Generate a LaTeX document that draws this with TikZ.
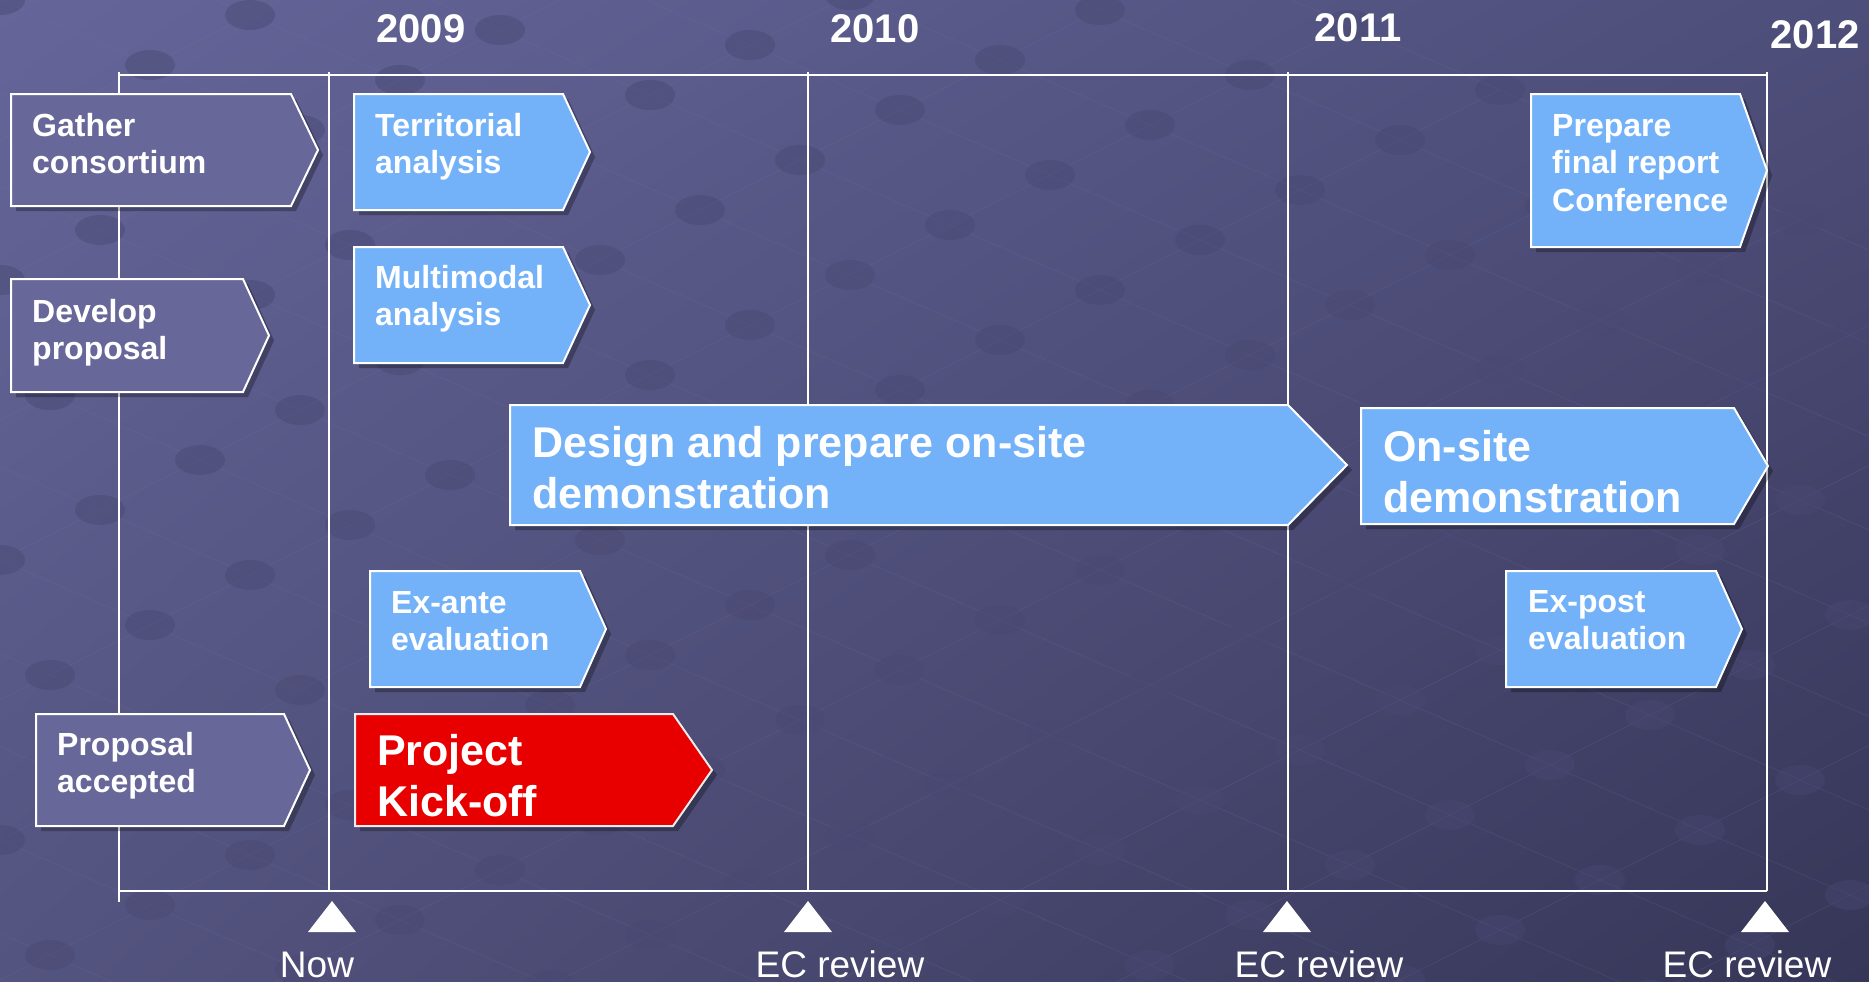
\documentclass[tikz,border=0pt]{standalone}
\usepackage{fontspec}
\setmainfont{Liberation Sans}
\usetikzlibrary{calc,shadings}
\definecolor{bgA}{RGB}{101,101,154}
\definecolor{bgB}{RGB}{78,78,122}
\definecolor{bgD}{RGB}{84,84,128}
\definecolor{bgC}{RGB}{54,54,88}
\definecolor{darkbox}{RGB}{103,103,154}
\definecolor{lightblue}{RGB}{115,178,248}
\definecolor{kickred}{RGB}{232,0,0}
\definecolor{dotc}{RGB}{72,72,114}
\definecolor{gridc}{RGB}{120,120,170}
\tikzset{
  frameline/.style={draw=white, line width=2pt},
  innerline/.style={draw=white, line width=1.5pt},
  boxshadow/.style={fill=black, fill opacity=0.28},
  darkchev/.style={fill=darkbox, draw=white, line width=2pt},
  bluechev/.style={fill=lightblue, draw=white, line width=2pt},
  redchev/.style={fill=kickred, draw=white!85!gray, line width=2pt},
  smalltxt/.style={font=\fontsize{32}{37.5}\selectfont\bfseries, text=white, align=left, inner sep=0pt, anchor=north west},
  bigtxt/.style={font=\fontsize{43}{51}\selectfont\bfseries, text=white, align=left, inner sep=0pt, anchor=north west},
  yeartxt/.style={font=\fontsize{40}{48}\selectfont\bfseries, text=white, inner sep=0pt, anchor=base},
  revtxt/.style={font=\fontsize{37}{44}\selectfont, text=white, inner sep=0pt, anchor=base},
  marker/.style={fill=white},
  dot/.style={fill=dotc, fill opacity=0.45},
  gridl/.style={draw=gridc, draw opacity=0.14, line width=1pt}
}
% #1 style, #2 left, #3 top, #4 right, #5 tip, #6 bottom
\newcommand\chevshape[6]{%
  \pgfmathsetmacro\cmid{(#3+#6)/2}%
  \fill[boxshadow] (#2+5,#3+5) -- (#4+5,#3+5) -- (#5+5,\cmid+5) -- (#4+5,#6+5) -- (#2+5,#6+5) -- cycle;
  \draw[#1] (#2,#3) -- (#4,#3) -- (#5,\cmid) -- (#4,#6) -- (#2,#6) -- cycle;
}
\newcommand\sst{\rule{0pt}{24pt}}
\newcommand\bst{\rule{0pt}{32pt}}
\begin{document}
\begin{tikzpicture}[x=1pt,y=-1pt]
\useasboundingbox (0,0) rectangle (1869,982);
\shade[upper left=bgA, upper right=bgB, lower left=bgD, lower right=bgC] (0,0) rectangle (1869,982);
% background texture
\begin{scope}
\clip (0,0) rectangle (1869,982);
\foreach \i in {-10,...,16}{
  \draw[gridl] ({150*\i-100*(-6)},{65*\i+50*(-6)}) -- ({150*\i-100*26},{65*\i+50*26});
}
\foreach \j in {-6,...,26}{
  \draw[gridl] ({150*(-10)-100*\j},{65*(-10)+50*\j}) -- ({150*16-100*\j},{65*16+50*\j});
}
\foreach \i in {-10,...,16}{
  \foreach \j in {-6,...,26}{
    \pgfmathsetmacro\px{150*\i-100*\j}
    \pgfmathsetmacro\py{65*\i+50*\j}
    \pgfmathparse{(\px>-40 && \px<1910 && \py>-30 && \py<1010) ? 1 : 0}
    \ifnum\pgfmathresult=1
      \fill[dot] (\px,\py) ellipse [x radius=25, y radius=15];
    \fi
  }
}
\end{scope}
% frame
\draw[frameline] (119,75) -- (1767,75);
\draw[frameline] (119,891) -- (1767,891);
\draw[frameline] (119,72) -- (119,902);
\draw[innerline] (329,72) -- (329,891);
\draw[innerline] (808,72) -- (808,891);
\draw[innerline] (1288,72) -- (1288,891);
\draw[frameline] (1767,72) -- (1767,891);
% years
\node[yeartxt] (y2009) at (421,43) {2009};
\node[yeartxt] (y2010) at (875,43) {2010};
\node[yeartxt] (y2011) at (1358,42) {2011};
\node[yeartxt] (y2012) at (1815,49) {2012};
% chevrons
\chevshape{darkchev}{11}{94}{291}{318}{206}
\node[smalltxt] (gather) at (32,136-24) {\sst Gather\\consortium};
\chevshape{darkchev}{11}{279}{243}{269}{392}
\node[smalltxt] (develop) at (32,322-24) {\sst Develop\\proposal};
\chevshape{darkchev}{36}{714}{284}{310}{826}
\node[smalltxt] (accepted) at (57,755-24) {\sst Proposal\\accepted};
\chevshape{bluechev}{354}{94}{563}{590}{210}
\node[smalltxt] (territorial) at (375,136-24) {\sst Territorial\\analysis};
\chevshape{bluechev}{354}{247}{563}{590}{363}
\node[smalltxt] (multimodal) at (375,288-24) {\sst Multimodal\\analysis};
\chevshape{bluechev}{510}{405}{1288}{1347}{525}
\node[bigtxt] (design) at (532,457-32) {\bst Design and prepare on-site\\demonstration};
\chevshape{bluechev}{1361}{408}{1734}{1768}{524}
\node[bigtxt] (onsite) at (1383,461-32) {\bst On-site\\demonstration};
\chevshape{bluechev}{370}{571}{580}{606}{687}
\node[smalltxt] (exante) at (391,613-24) {\sst Ex-ante\\evaluation};
\chevshape{redchev}{355}{714}{673}{712}{826}
\node[bigtxt] (kickoff) at (377,765-32) {\bst Project\\Kick-off};
\chevshape{bluechev}{1531}{94}{1740}{1767}{247}
\node[smalltxt] (final) at (1552,136-24) {\sst Prepare\\final report\\Conference};
\chevshape{bluechev}{1506}{571}{1716}{1742}{687}
\node[smalltxt] (expost) at (1528,612-24) {\sst Ex-post\\evaluation};
% markers
\fill[marker] (332,901) -- (356,932) -- (308,932) -- cycle;
\fill[marker] (808,901) -- (832,932) -- (784,932) -- cycle;
\fill[marker] (1287,901) -- (1311,932) -- (1263,932) -- cycle;
\fill[marker] (1765,901) -- (1789,932) -- (1741,932) -- cycle;
\node[revtxt] (now) at (317,977) {Now};
\node[revtxt] (ec1) at (840,977) {EC review};
\node[revtxt] (ec2) at (1319,977) {EC review};
\node[revtxt] (ec3) at (1747,977) {EC review};
\end{tikzpicture}
\end{document}
